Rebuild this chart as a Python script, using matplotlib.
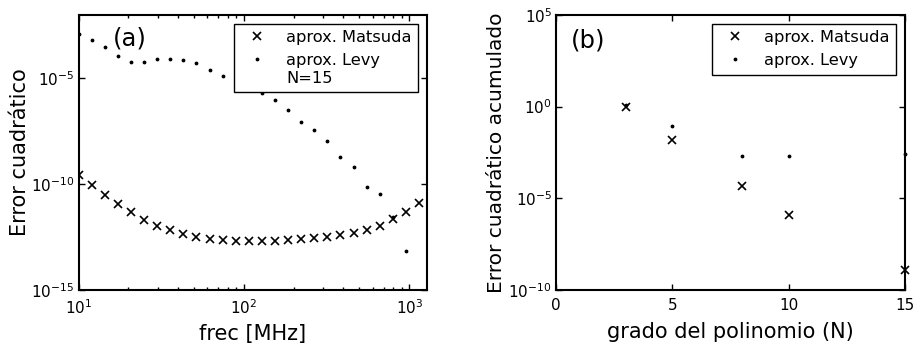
import matplotlib
matplotlib.use("Agg")
import matplotlib.pyplot as plt
from matplotlib.ticker import LogLocator, NullLocator, NullFormatter

# Datos (a): error cuadrático vs frecuencia, N=15
frec = [10, 12, 14.4, 17.28, 20.74, 24.88, 29.86, 35.83, 43.0, 51.6, 61.92,
        74.3, 89.16, 107.0, 128.4, 154.1, 184.9, 221.9, 266.2, 319.5, 383.4,
        460.1, 552.1, 662.5, 795.0, 954.0, 1144.8]
err_matsuda = [2.75e-10, 8.7e-11, 2.95e-11, 1.1e-11, 4.6e-12, 2.1e-12, 1.1e-12,
               6.8e-13, 4.4e-13, 3.2e-13, 2.6e-13, 2.2e-13, 2.0e-13, 2.0e-13,
               2.0e-13, 2.1e-13, 2.3e-13, 2.6e-13, 3.0e-13, 3.2e-13, 3.9e-13,
               4.9e-13, 6.8e-13, 1.07e-12, 2.2e-12, 4.7e-12, 1.35e-11]
err_levy = [1.3e-3, 6.4e-4, 3.1e-4, 1.17e-4, 5.9e-5, 6.0e-5, 7.8e-5, 8.1e-5,
            7.0e-5, 5.1e-5, 2.5e-5, 1.3e-5, 6.3e-6, 3.5e-6, 1.95e-6, 9.8e-7,
            3.2e-7, 8.9e-8, 3.6e-8, 1.1e-8, 2.0e-9, 6.6e-10, 7.6e-11, 3.3e-11,
            2.8e-12, 6.8e-14]

# Datos (b): error acumulado vs grado
grado = [3, 5, 8, 10, 15]
acum_matsuda = [1.0, 1.48e-2, 4.9e-5, 1.3e-6, 1.3e-9]
acum_levy = [1.15, 8.9e-2, 2.1e-3, 1.9e-3, 2.7e-3]

fig = plt.figure(figsize=(9.16, 3.52), dpi=100)
ax1 = fig.add_axes([0.0859, 0.1761, 0.3802, 0.782])
ax2 = fig.add_axes([0.607, 0.1761, 0.381, 0.782])

mk_x = dict(marker='x', linestyle='none', color='k', markersize=5.5, markeredgewidth=1.2)
mk_d = dict(marker='.', linestyle='none', color='k', markersize=3.5)

# (a)
ax1.plot(frec, err_matsuda, label='aprox. Matsuda', **mk_x)
ax1.plot(frec[:len(err_levy)], err_levy, label='aprox. Levy\nN=15', **mk_d)
ax1.set_xscale('log')
ax1.set_yscale('log')
ax1.set_xlim(10, 1280)
ax1.set_ylim(1e-15, 1e-2)
ax1.set_yticks([1e-15, 1e-10, 1e-5])
ax1.yaxis.set_minor_locator(NullLocator())
ax1.xaxis.set_minor_locator(LogLocator(base=10, subs=range(2, 10)))
ax1.xaxis.set_minor_formatter(NullFormatter())
ax1.set_xlabel('frec [MHz]', fontsize=15, labelpad=5)
ax1.set_ylabel('Error cuadrático', fontsize=15, labelpad=1)
ax1.text(0.098, 0.915, '(a)', transform=ax1.transAxes, fontsize=17.5,
         ha='left', va='center')

# (b)
ax2.plot(grado, acum_matsuda, label='aprox. Matsuda', clip_on=False, **mk_x)
ax2.plot(grado, acum_levy, label='aprox. Levy', clip_on=False, **mk_d)
ax2.set_yscale('log')
ax2.set_xlim(0, 15)
ax2.set_ylim(1e-10, 1e5)
ax2.set_xticks([0, 5, 10, 15])
ax2.set_yticks([1e-10, 1e-5, 1, 1e5])
ax2.yaxis.set_minor_locator(NullLocator())
ax2.set_xlabel('grado del polinomio (N)', fontsize=15, labelpad=6)
ax2.set_ylabel('Error cuadrático acumulado', fontsize=14.5, labelpad=2)
ax2.text(0.043, 0.908, '(b)', transform=ax2.transAxes, fontsize=17.5,
         ha='left', va='center')

for ax in (ax1, ax2):
    for s in ax.spines.values():
        s.set_linewidth(1.5)
    ax.tick_params(which='both', direction='in', top=True, right=True,
                   labelsize=11, width=1)
    ax.tick_params(which='major', length=4)
    ax.tick_params(which='minor', length=2)
    ax.tick_params(axis='x', pad=6)
    ax.tick_params(axis='y', pad=3)
    leg = ax.legend(loc='upper right', fontsize=11.7, numpoints=1,
                    fancybox=False, framealpha=1, edgecolor='k',
                    borderaxespad=0.55, handletextpad=0.8)
    leg.get_frame().set_linewidth(1.0)
    # marker aligned with first line of multi-line label
    for item in leg._legend_handle_box.get_children()[0].get_children():
        item.align = 'top'

fig.savefig('out.png', dpi=100)
